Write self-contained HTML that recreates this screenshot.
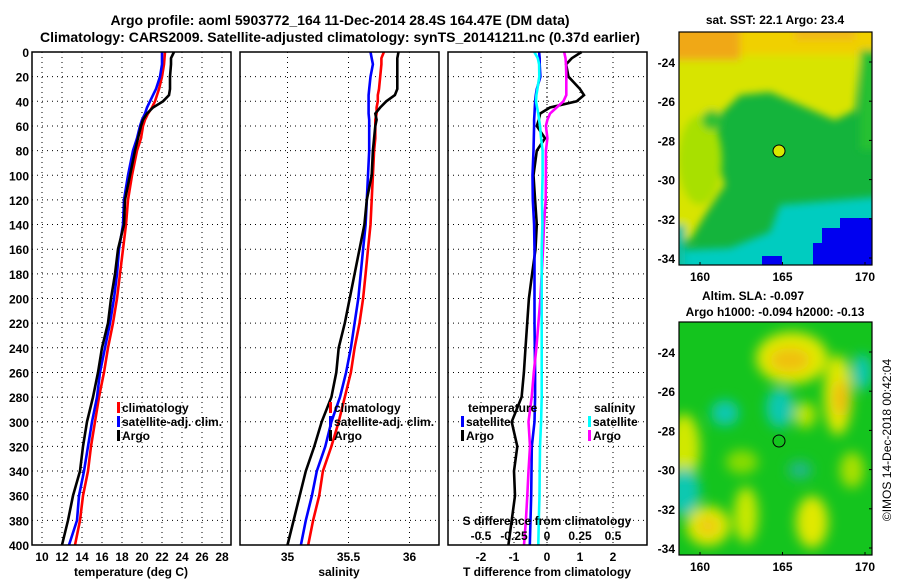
<!DOCTYPE html>
<html><head><meta charset="utf-8">
<style>
html,body{margin:0;padding:0;background:#fff;}
svg{display:block;font-family:"Liberation Sans",Arial,sans-serif;font-weight:bold;}
</style></head>
<body>
<svg id="fig" width="900" height="580" viewBox="0 0 900 580" xmlns="http://www.w3.org/2000/svg">
<defs>
  <filter id="blur1" x="-20%" y="-20%" width="140%" height="140%"><feGaussianBlur stdDeviation="4"/></filter>
  <filter id="blur2" x="-50%" y="-50%" width="200%" height="200%"><feGaussianBlur stdDeviation="6"/></filter>
  <clipPath id="clipMap1"><rect x="679" y="32" width="193" height="233"/></clipPath>
  <clipPath id="clipMap2"><rect x="679" y="322" width="193" height="233"/></clipPath>
</defs>
<text x="340" y="25" text-anchor="middle" font-size="14">Argo profile: aoml 5903772_164 11-Dec-2014 28.4S 164.47E (DM data)</text>
<text x="340" y="42" text-anchor="middle" font-size="14">Climatology: CARS2009. Satellite-adjusted climatology: synTS_20141211.nc (0.37d earlier)</text>

<g id="panels"></g>

<!-- Map 1: SST -->
<g>
  <g clip-path="url(#clipMap1)">
    <rect x="679" y="32" width="193" height="233" fill="#14b43c"/>
    <g filter="url(#blur1)">
      <path d="M640 0 L900 0 L900 60 L860 60 L855 110 L835 120 L800 105 L770 92 L740 95 L720 115 L715 150 L725 185 L705 215 L690 240 L640 240 Z" fill="#d8e400"/>
      <rect x="640" y="0" width="250" height="55" fill="#f0d000"/>
      <rect x="640" y="0" width="100" height="60" fill="#f0a818"/>
      <rect x="795" y="0" width="60" height="40" fill="#f0b818"/>
      <ellipse cx="700" cy="160" rx="22" ry="45" fill="#a8e000"/>
      <ellipse cx="712" cy="120" rx="10" ry="10" fill="#30c030"/>
      <rect x="860" y="50" width="40" height="100" fill="#28c030"/>
      <path d="M780 205 L900 195 L900 290 L640 290 L640 252 L730 248 L770 232 Z" fill="#00ccc0"/>
      <rect x="640" y="225" width="45" height="60" fill="#10c0a0"/>
    </g>
    <rect x="822" y="228" width="60" height="40" fill="#0000f0"/>
    <rect x="840" y="218" width="40" height="12" fill="#0000f0"/>
    <rect x="813" y="243" width="12" height="25" fill="#0000f0"/>
    <rect x="762" y="256" width="20" height="12" fill="#0000f0"/>
    <circle cx="779" cy="151" r="6" fill="#d8e800" stroke="#000" stroke-width="1"/>
  </g>
  <rect x="679" y="32" width="193" height="233" fill="none" stroke="#000" stroke-width="1.2"/>
</g>
<text x="775" y="24" text-anchor="middle" font-size="12">sat. SST: 22.1 Argo: 23.4</text>

<!-- Map 2: SLA -->
<g>
  <g clip-path="url(#clipMap2)">
    <rect x="679" y="322" width="193" height="233" fill="#14c41e"/>
    <g filter="url(#blur2)">
      <ellipse cx="792" cy="358" rx="36" ry="26" fill="#e0e800"/>
      <ellipse cx="790" cy="360" rx="20" ry="12" fill="#f0c010"/>
      <ellipse cx="838" cy="395" rx="14" ry="40" fill="#e0e800"/>
      <ellipse cx="841" cy="398" rx="7" ry="18" fill="#f0b818"/>
      <ellipse cx="684" cy="448" rx="16" ry="34" fill="#d0e800"/>
      <ellipse cx="708" cy="526" rx="22" ry="20" fill="#e0e800"/>
      <ellipse cx="708" cy="526" rx="10" ry="9" fill="#f0c818"/>
      <ellipse cx="746" cy="515" rx="12" ry="28" fill="#c8e800"/>
      <ellipse cx="812" cy="522" rx="16" ry="26" fill="#e0e800"/>
      <ellipse cx="805" cy="415" rx="11" ry="13" fill="#b8e400"/>
      <ellipse cx="852" cy="470" rx="12" ry="18" fill="#a8e000"/>
      <ellipse cx="742" cy="462" rx="16" ry="12" fill="#88dc00"/>
      <ellipse cx="725" cy="413" rx="14" ry="13" fill="#10c8b0"/>
      <ellipse cx="780" cy="408" rx="14" ry="20" fill="#10c8b0"/>
      <ellipse cx="862" cy="372" rx="10" ry="18" fill="#10c8b0"/>
      <ellipse cx="684" cy="492" rx="16" ry="24" fill="#10c8b0"/>
      <ellipse cx="800" cy="470" rx="12" ry="9" fill="#20b88a"/>
    </g>
    <circle cx="779" cy="441" r="6" fill="none" stroke="#000" stroke-width="1"/>
  </g>
  <rect x="679" y="322" width="193" height="233" fill="none" stroke="#000" stroke-width="1.2"/>
</g>
<text x="753" y="300" text-anchor="middle" font-size="12">Altim. SLA: -0.097</text>
<text x="775" y="316" text-anchor="middle" font-size="12">Argo h1000: -0.094 h2000: -0.13</text>
<text transform="translate(891,440) rotate(-90)" text-anchor="middle" font-size="12" font-weight="normal">©IMOS 14-Dec-2018 00:42:04</text>
<g id="mapaxes"></g>

<script>
// ---- data ----
const depths = [0,5,10,20,30,35,40,45,50,55,60,70,80,100,120,140,160,180,200,220,240,260,280,300,320,340,360,380,400];
const tempClim = [22.3,22.25,22.2,22.0,21.7,21.5,21.3,21.0,20.6,20.3,20.1,19.9,19.5,19.0,18.6,18.4,18.1,17.8,17.5,17.1,16.6,16.2,15.7,15.3,14.9,14.6,14.1,13.8,13.3];
const tempSat = [22.0,22.0,22.0,21.8,21.4,21.1,20.8,20.5,20.3,20.0,19.8,19.5,19.1,18.6,18.2,18.1,17.7,17.5,17.2,16.8,16.3,15.8,15.5,15.0,14.6,14.2,13.7,13.5,12.7];
const tempArgo = [23.2,22.9,22.9,22.8,22.8,22.7,22.1,21.1,20.5,20.1,19.9,19.6,19.3,18.8,18.3,18.2,17.6,17.3,16.9,16.6,16.0,15.6,15.1,14.5,14.1,13.8,13.1,12.6,12.0];
const salClim = [35.79,35.77,35.77,35.76,35.75,35.74,35.74,35.73,35.73,35.72,35.72,35.72,35.71,35.70,35.69,35.68,35.66,35.64,35.62,35.59,35.55,35.52,35.47,35.42,35.36,35.29,35.26,35.21,35.17];
const salSat = [35.68,35.69,35.70,35.68,35.67,35.665,35.665,35.665,35.665,35.67,35.67,35.67,35.67,35.66,35.65,35.64,35.62,35.60,35.58,35.55,35.52,35.48,35.43,35.36,35.31,35.24,35.20,35.15,35.11];
const salArgo = [35.91,35.90,35.90,35.90,35.90,35.88,35.81,35.76,35.72,35.73,35.72,35.71,35.70,35.69,35.65,35.63,35.59,35.55,35.51,35.47,35.42,35.40,35.36,35.28,35.22,35.15,35.10,35.05,35.00];
const tDiffArgo = [1.05,0.75,0.58,0.65,1.0,1.12,0.9,0.09,-0.21,-0.25,-0.31,-0.06,-0.31,-0.41,-0.36,-0.31,-0.35,-0.45,-0.55,-0.6,-0.65,-0.7,-0.77,-1.07,-0.9,-1.0,-0.97,-1.07,-1.17];
const tDiffSat = [-0.24,-0.22,-0.22,-0.2,-0.31,-0.34,-0.36,-0.37,-0.38,-0.39,-0.39,-0.4,-0.41,-0.44,-0.43,-0.39,-0.38,-0.38,-0.38,-0.38,-0.37,-0.36,-0.36,-0.38,-0.46,-0.47,-0.48,-0.5,-0.52];
const sDiffSat = [-0.096,-0.07,-0.06,-0.058,-0.073,-0.08,-0.083,-0.075,-0.066,-0.06,-0.053,-0.045,-0.033,-0.033,-0.038,-0.035,-0.04,-0.04,-0.04,-0.04,-0.04,-0.04,-0.04,-0.045,-0.053,-0.055,-0.057,-0.062,-0.066];
const sDiffArgo = [0.13,0.14,0.144,0.146,0.146,0.146,0.124,0.073,0.023,0.003,-0.008,0.003,-0.008,-0.008,-0.01,-0.023,-0.03,-0.04,-0.05,-0.065,-0.08,-0.1,-0.116,-0.14,-0.129,-0.14,-0.149,-0.16,-0.174];
const depthTicks = [0,20,40,60,80,100,120,140,160,180,200,220,240,260,280,300,320,340,360,380,400];
const tempTicks = [10,12,14,16,18,20,22,24,26,28];
const salTicks = [35,35.5,36];
const salTickLabels = ["35","35.5","36"];
const tDiffTicks = [-2,-1,0,1,2];
const sDiffTicks = [-0.5,-0.25,0,0.25,0.5];
const sDiffTickLabels = ["-0.5","-0.25","0","0.25","0.5"];
const latTicks = [-24,-26,-28,-30,-32,-34];
const lonTicks = [160,165,170];

const NS = "http://www.w3.org/2000/svg";
const root = document.getElementById('panels');
const TOP = 52, BOT = 545;
function yD(d){ return TOP + d*(BOT-TOP)/400; }
function mk(tag, attrs, parent){ const e=document.createElementNS(NS,tag); for(const k in attrs) e.setAttribute(k,attrs[k]); (parent||root).appendChild(e); return e; }
function txt(s, x, y, anchor, size, parent){ const t=mk('text',{x:x,y:y,'text-anchor':anchor,'font-size':size},parent); t.textContent=s; return t; }

const xT = v => 32 + (v-9)*10;
const xS = v => 287.5 + (v-35)*122;
const xTd = v => 547 + v*33;
const xSd = v => 547 + v*132;

function panel(x0, name){
  const g = mk('g',{});
  
  
  mk('rect',{x:x0,y:TOP,width:199,height:BOT-TOP,fill:'#fff'},g);
  return g;
}
function hgrid(g, x0){
  depthTicks.forEach(d=>{ if(d>0&&d<400) mk('line',{x1:x0,x2:x0+199,y1:yD(d),y2:yD(d),stroke:'#000','stroke-width':1,'stroke-dasharray':'1,4'},g); });
}
function vgrid(g, xs){
  xs.forEach(x=>mk('line',{x1:x,x2:x,y1:TOP,y2:BOT,stroke:'#000','stroke-width':1,'stroke-dasharray':'1,4'},g));
}
function series(g, vals, sx, color, name){
  const pts = vals.map((v,i)=>sx(v).toFixed(1)+','+yD(depths[i]).toFixed(1)).join(' ');
  const p = mk('polyline',{points:pts,fill:'none',stroke:color,'stroke-width':2.6,'stroke-linejoin':'miter'},g);
  
  
}
function border(g,x0){ mk('rect',{x:x0,y:TOP,width:199,height:BOT-TOP,fill:'none',stroke:'#000','stroke-width':1.5},g); }
function legend(g, x, y0, items){
  items.forEach((it,i)=>{
    const y = y0 + i*14;
    const m = mk('rect',{x:x,y:y-5,width:3,height:11,fill:it[1]},g);
    
    
    const t = txt(it[0], x+5, y+5, 'start', 12, g);
    
    
  });
}

depthTicks.forEach(d=>{
  const t = txt(String(d), 29, yD(d)+5, 'end', 12);
  
  
});

// Panel 1 temperature
const g1 = panel(32,'temperature-panel');
hgrid(g1,32); vgrid(g1, tempTicks.map(xT));
series(g1, tempClim, xT, '#ff0000', 'temp-climatology-line');
series(g1, tempSat, xT, '#0000ff', 'temp-satellite-line');
series(g1, tempArgo, xT, '#000000', 'temp-argo-line');
legend(g1, 117, 407, [['climatology','#ff0000'],['satellite-adj. clim.','#0000ff'],['Argo','#000']]);
border(g1,32);
tempTicks.forEach(v=>{ const t=txt(String(v), xT(v), 561, 'middle', 12);   });
{ const t=txt('temperature (deg C)', 131, 576, 'middle', 12);   }

// Panel 2 salinity
const g2 = panel(240,'salinity-panel');
hgrid(g2,240); vgrid(g2, salTicks.map(xS));
series(g2, salClim, xS, '#ff0000', 'sal-climatology-line');
series(g2, salSat, xS, '#0000ff', 'sal-satellite-line');
series(g2, salArgo, xS, '#000000', 'sal-argo-line');
legend(g2, 329, 407, [['climatology','#ff0000'],['satellite-adj. clim.','#0000ff'],['Argo','#000']]);
border(g2,240);
salTicks.forEach((v,i)=>{ const t=txt(salTickLabels[i], xS(v), 561, 'middle', 12);   });
{ const t=txt('salinity', 339, 576, 'middle', 12);   }

// Panel 3 differences
const g3 = panel(448,'difference-panel');
hgrid(g3,448); vgrid(g3, tDiffTicks.map(xTd));
mk('line',{x1:xTd(0),x2:xTd(0),y1:TOP,y2:BOT,stroke:'#000','stroke-width':1,'stroke-dasharray':'1,3'},g3);
series(g3, tDiffArgo, xTd, '#000000', 'tdiff-argo-line');
series(g3, tDiffSat, xTd, '#0000ff', 'tdiff-satellite-line');
series(g3, sDiffArgo, xSd, '#ff00ff', 'sdiff-argo-line');
series(g3, sDiffSat, xSd, '#00ffff', 'sdiff-satellite-line');
{ const t=txt('temperature', 468, 412, 'start', 12, g3);   }
{ const t=txt('salinity', 594, 412, 'start', 12, g3);   }
legend(g3, 461, 421, [['satellite','#0000ff'],['Argo','#000']]);
legend(g3, 588, 421, [['satellite','#00ffff'],['Argo','#ff00ff']]);
{ const t=txt('S difference from climatology', 547, 525, 'middle', 12, g3);   }
sDiffTicks.forEach((v,i)=>{ const t=txt(sDiffTickLabels[i], xSd(v), 540, 'middle', 12, g3);   });
border(g3,448);
tDiffTicks.forEach(v=>{ const t=txt(String(v), xTd(v), 561, 'middle', 12);   });
{ const t=txt('T difference from climatology', 547, 576, 'middle', 12);   }

// Map axes
const ma = document.getElementById('mapaxes');
const lat1 = v => 62 + (-24 - v)*19.6;
const lat2 = v => 352 + (-24 - v)*19.6;
const lonX = v => 700 + (v-160)*16.5;
latTicks.forEach(v=>{
  [[lat1,'sst'],[lat2,'sla']].forEach(([f,n])=>{
    const t = txt(String(v), 675, f(v)+5, 'end', 12, ma);
    
    
    mk('line',{x1:869,x2:872,y1:f(v),y2:f(v),stroke:'#000'},ma);
  });
});
lonTicks.forEach(v=>{
  [[281,'sst',262,265],[571,'sla',552,555]].forEach(([y,n,a,b])=>{
    const t = txt(String(v), lonX(v), y, 'middle', 12, ma);
    
    
    mk('line',{x1:lonX(v),x2:lonX(v),y1:a,y2:b,stroke:'#000'},ma);
  });
});
</script>
</svg>
</body></html>
